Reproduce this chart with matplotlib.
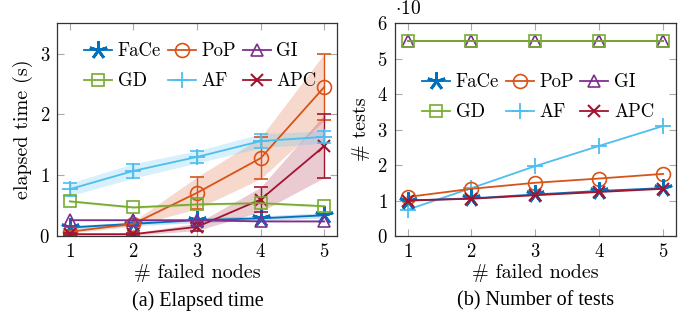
import matplotlib
matplotlib.use("Agg")
import matplotlib.pyplot as plt
import numpy as np

plt.rcParams['font.family'] = 'serif'
plt.rcParams['font.serif'] = ['cmr10']
plt.rcParams['mathtext.fontset'] = 'cm'
plt.rcParams['axes.formatter.use_mathtext'] = True

nodes = [1, 2, 3, 4, 5]
methods = ["FaCe", "PoP", "GI", "GD", "AF", "APC"]
colors = {"FaCe": "#0072BD", "PoP": "#D95319", "GI": "#7E2F8E",
          "GD": "#77AC30", "AF": "#4DBEEE", "APC": "#A2142F"}

# elapsed time (s): mean, lower, upper
time_mean = {
    "FaCe": [0.14, 0.20, 0.26, 0.29, 0.34],
    "PoP":  [0.07, 0.20, 0.71, 1.28, 2.45],
    "GI":   [0.26, 0.26, 0.26, 0.24, 0.24],
    "GD":   [0.57, 0.47, 0.52, 0.54, 0.49],
    "AF":   [0.77, 1.07, 1.30, 1.56, 1.63],
    "APC":  [0.03, 0.03, 0.15, 0.60, 1.48],
}
time_low = {
    "FaCe": [0.11, 0.17, 0.22, 0.25, 0.30],
    "PoP":  [0.05, 0.16, 0.45, 0.94, 1.90],
    "GI":   [0.25, 0.25, 0.25, 0.23, 0.23],
    "GD":   [0.55, 0.45, 0.50, 0.52, 0.47],
    "AF":   [0.66, 0.95, 1.20, 1.45, 1.53],
    "APC":  [0.01, 0.01, 0.09, 0.40, 0.96],
}
time_high = {
    "FaCe": [0.17, 0.23, 0.30, 0.33, 0.38],
    "PoP":  [0.09, 0.24, 0.97, 1.62, 3.00],
    "GI":   [0.27, 0.27, 0.27, 0.25, 0.25],
    "GD":   [0.59, 0.49, 0.54, 0.56, 0.51],
    "AF":   [0.87, 1.19, 1.40, 1.68, 1.73],
    "APC":  [0.05, 0.05, 0.21, 0.80, 2.00],
}

# number of tests (x10)
tests = {
    "FaCe": [1.00, 1.06, 1.17, 1.27, 1.35],
    "PoP":  [1.10, 1.33, 1.50, 1.62, 1.75],
    "GI":   [5.50, 5.50, 5.50, 5.50, 5.50],
    "GD":   [5.50, 5.50, 5.50, 5.50, 5.50],
    "AF":   [0.74, 1.35, 1.97, 2.54, 3.10],
    "APC":  [1.00, 1.05, 1.15, 1.24, 1.33],
}

markers = {"FaCe": (5, 2, 0), "PoP": "o", "GI": "^", "GD": "s", "AF": "+", "APC": "x"}
msize = {"FaCe": 13, "PoP": 10, "GI": 8, "GD": 8, "AF": 12, "APC": 8}
mew = {"FaCe": 2.0, "PoP": 1.2, "GI": 1.2, "GD": 1.2, "AF": 1.3, "APC": 1.5}
errbar_methods = ["PoP", "AF", "APC"]

fig = plt.figure(figsize=(6.83, 3.28), dpi=100)
ax1 = fig.add_axes([0.0835, 0.2805, 0.41, 0.649])
ax2 = fig.add_axes([0.578, 0.2805, 0.4115, 0.649])

def style(ax):
    ax.set_xlim(0.8, 5.2)
    ax.set_xticks(nodes)
    ax.tick_params(direction='in', length=5, width=0.8, color='#aaaaaa',
                   top=True, right=True, labelsize=13.5, pad=5)
    for s in ax.spines.values():
        s.set_linewidth(0.9)
        s.set_color('#333333')
    ax.set_xlabel("# failed nodes", fontsize=14.5, labelpad=2)

order = ["FaCe", "GD", "PoP", "AF", "GI", "APC"]
leg_kw = dict(ncol=3, loc='upper left', frameon=False, fontsize=13.5,
              handlelength=1.5, handletextpad=0.3, columnspacing=0.35,
              labelspacing=0.65, borderaxespad=0.0)

handles1 = {}
for m in ["FaCe", "PoP", "APC", "AF", "GD", "GI"]:
    c = colors[m]
    ax1.fill_between(nodes, time_low[m], time_high[m], color=c, alpha=0.22, lw=0)
    if m in errbar_methods:
        lo = np.array(time_mean[m]) - np.array(time_low[m])
        hi = np.array(time_high[m]) - np.array(time_mean[m])
        ax1.errorbar(nodes, time_mean[m], yerr=[lo, hi], fmt='none', ecolor=c,
                     elinewidth=1.0, capsize=5, capthick=1.2)
    h, = ax1.plot(nodes, time_mean[m], color=c, lw=1.3, marker=markers[m],
                  ms=msize[m], mew=mew[m], mfc='none', label=m)
    handles1[m] = h
style(ax1)
ax1.set_ylim(0, 3.5)
ax1.set_yticks([0, 1, 2, 3])
ax1.set_ylabel("elapsed time (s)", fontsize=14.5, labelpad=5)
ax1.legend([handles1[m] for m in order], order,
           bbox_to_anchor=(0.07, 0.945), **leg_kw)

handles2 = {}
for m in ["GI", "GD", "AF", "PoP", "FaCe", "APC"]:
    c = colors[m]
    h, = ax2.plot(nodes, tests[m], color=c, lw=1.3, marker=markers[m],
                  ms=msize[m], mew=mew[m], mfc='none', label=m)
    handles2[m] = h
style(ax2)
ax2.set_ylim(0, 6)
ax2.set_yticks([0, 1, 2, 3, 4, 5, 6])
ax2.set_ylabel("# tests", fontsize=14.5, labelpad=5)
ax2.text(0.0, 1.025, r"$\cdot 10$", transform=ax2.transAxes, fontsize=14,
         ha='left', va='bottom')
ax2.legend([handles2[m] for m in order], order,
           bbox_to_anchor=(0.07, 0.80), **leg_kw)

fig.text(0.289, 0.083, "(a) Elapsed time", ha='center', va='center',
         fontsize=14.5, family='Liberation Serif')
fig.text(0.784, 0.083, "(b) Number of tests", ha='center', va='center',
         fontsize=14.5, family='Liberation Serif')

fig.savefig("out.png", dpi=100)
